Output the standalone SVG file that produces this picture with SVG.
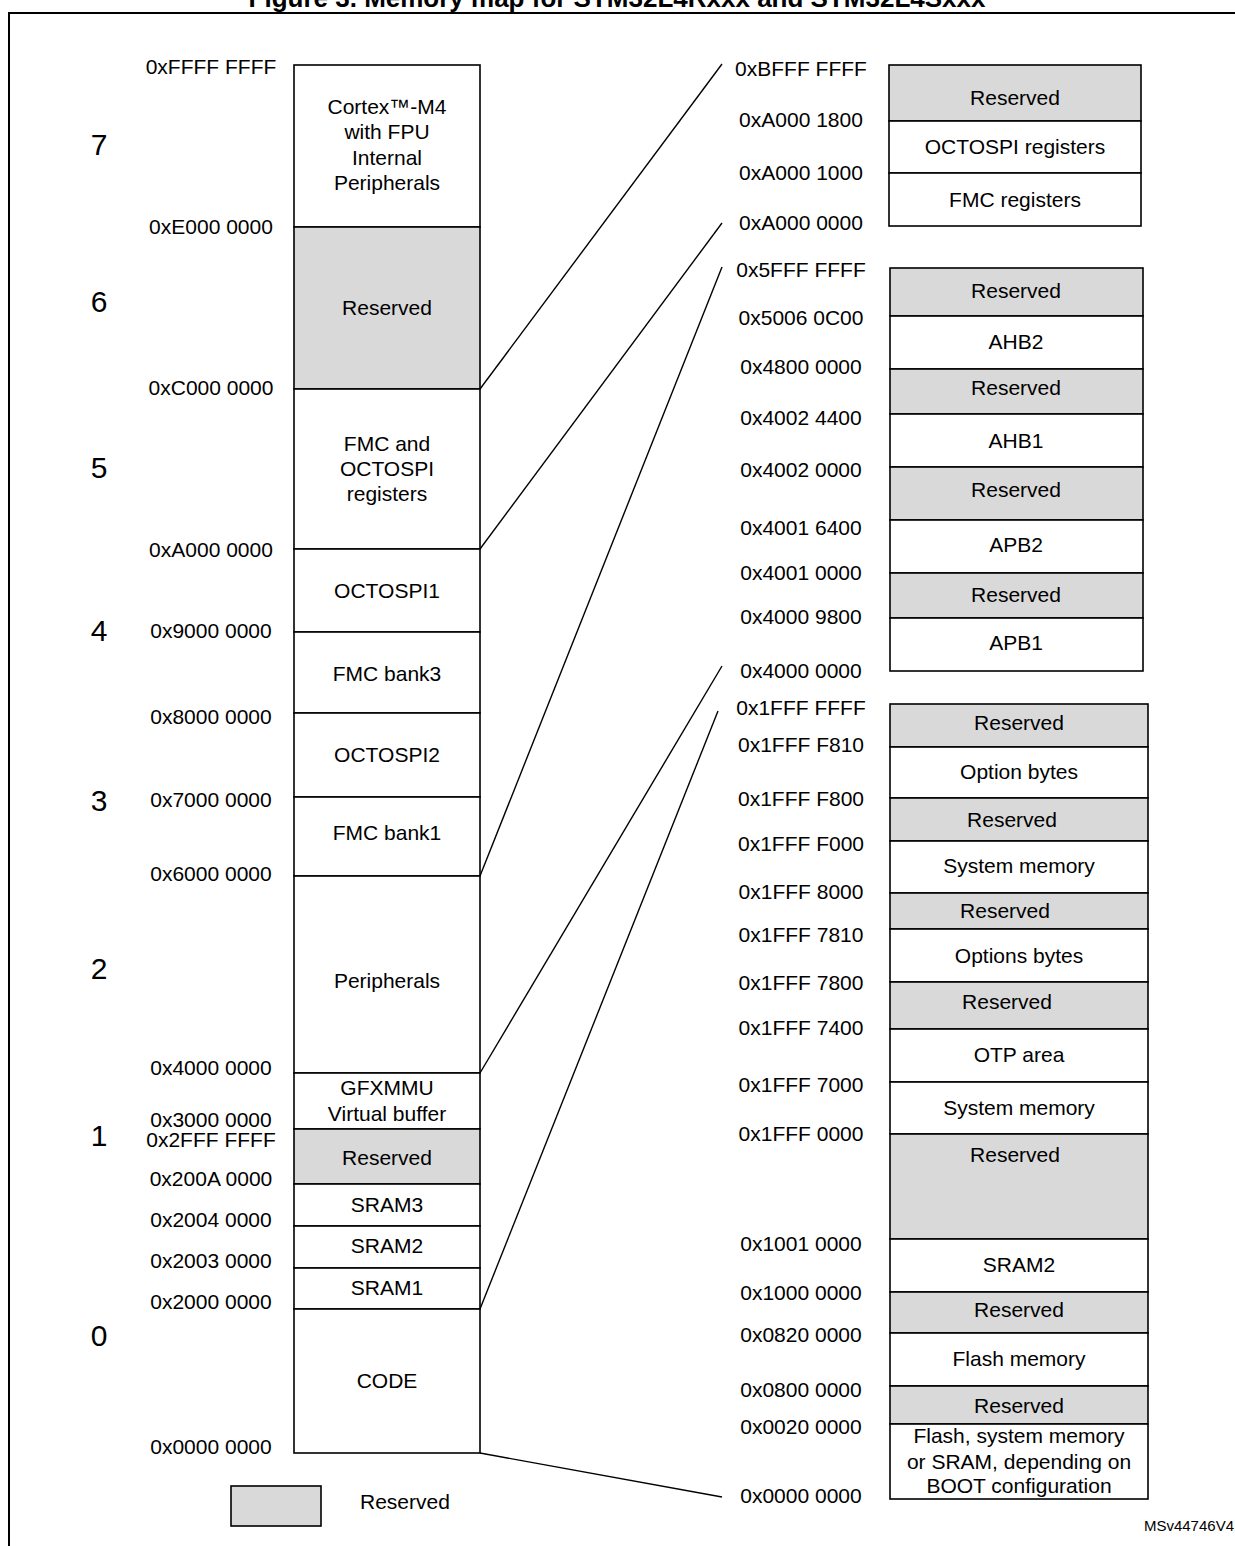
<svg xmlns="http://www.w3.org/2000/svg" width="1235" height="1546" viewBox="0 0 1235 1546">
<style>
text{font-family:"Liberation Sans",Arial,sans-serif;font-size:21px;fill:#000}
.t{text-anchor:middle}
.a{text-anchor:middle}
.n{font-size:30px;text-anchor:middle}
.w{fill:#fff;stroke:#000;stroke-width:1.6}
.g{fill:#d9d9d9;stroke:#000;stroke-width:1.6}
.c{stroke:#000;stroke-width:1.4;fill:none}
.title{font-weight:bold;font-size:26px;text-anchor:middle}
</style>
<rect width="1235" height="1546" fill="#fff"/>
<text class="title" x="617" y="7">Figure 3. Memory map for STM32L4Rxxx and STM32L4Sxxx</text>
<path d="M9,1546 V13 H1235" fill="none" stroke="#000" stroke-width="2"/>

<g id="region-numbers">
<text class="n" x="99" y="155">7</text>
<text class="n" x="99" y="312">6</text>
<text class="n" x="99" y="478">5</text>
<text class="n" x="99" y="641">4</text>
<text class="n" x="99" y="811">3</text>
<text class="n" x="99" y="979">2</text>
<text class="n" x="99" y="1146">1</text>
<text class="n" x="99" y="1346">0</text>
</g>

<g id="left-addresses">
<text class="a" x="211" y="74">0xFFFF FFFF</text>
<text class="a" x="211" y="234">0xE000 0000</text>
<text class="a" x="211" y="395">0xC000 0000</text>
<text class="a" x="211" y="557">0xA000 0000</text>
<text class="a" x="211" y="638">0x9000 0000</text>
<text class="a" x="211" y="724">0x8000 0000</text>
<text class="a" x="211" y="807">0x7000 0000</text>
<text class="a" x="211" y="881">0x6000 0000</text>
<text class="a" x="211" y="1075">0x4000 0000</text>
<text class="a" x="211" y="1127">0x3000 0000</text>
<text class="a" x="211" y="1147">0x2FFF FFFF</text>
<text class="a" x="211" y="1186">0x200A 0000</text>
<text class="a" x="211" y="1227">0x2004 0000</text>
<text class="a" x="211" y="1268">0x2003 0000</text>
<text class="a" x="211" y="1309">0x2000 0000</text>
<text class="a" x="211" y="1454">0x0000 0000</text>
</g>

<g id="cortex-m4"><rect class="w" x="294" y="65" width="186" height="162"/>
<text class="t" x="387" y="114">Cortex™-M4</text><text class="t" x="387" y="139">with FPU</text><text class="t" x="387" y="165">Internal</text><text class="t" x="387" y="190">Peripherals</text></g>
<g id="reserved-6"><rect class="g" x="294" y="227" width="186" height="162"/><text class="t" x="387" y="315">Reserved</text></g>
<g id="fmc-octospi-regs"><rect class="w" x="294" y="389" width="186" height="160"/>
<text class="t" x="387" y="451">FMC and</text><text class="t" x="387" y="476">OCTOSPI</text><text class="t" x="387" y="501">registers</text></g>
<g id="octospi1"><rect class="w" x="294" y="549" width="186" height="83"/><text class="t" x="387" y="598">OCTOSPI1</text></g>
<g id="fmc-bank3"><rect class="w" x="294" y="632" width="186" height="81"/><text class="t" x="387" y="681">FMC bank3</text></g>
<g id="octospi2"><rect class="w" x="294" y="713" width="186" height="84"/><text class="t" x="387" y="762">OCTOSPI2</text></g>
<g id="fmc-bank1"><rect class="w" x="294" y="797" width="186" height="79"/><text class="t" x="387" y="840">FMC bank1</text></g>
<g id="peripherals"><rect class="w" x="294" y="876" width="186" height="197"/><text class="t" x="387" y="988">Peripherals</text></g>
<g id="gfxmmu"><rect class="w" x="294" y="1073" width="186" height="56"/><text class="t" x="387" y="1095">GFXMMU</text><text class="t" x="387" y="1121">Virtual buffer</text></g>
<g id="reserved-1"><rect class="g" x="294" y="1129" width="186" height="55"/><text class="t" x="387" y="1165">Reserved</text></g>
<g id="sram3"><rect class="w" x="294" y="1184" width="186" height="42"/><text class="t" x="387" y="1212">SRAM3</text></g>
<g id="sram2-left"><rect class="w" x="294" y="1226" width="186" height="42"/><text class="t" x="387" y="1253">SRAM2</text></g>
<g id="sram1"><rect class="w" x="294" y="1268" width="186" height="41"/><text class="t" x="387" y="1295">SRAM1</text></g>
<g id="code"><rect class="w" x="294" y="1309" width="186" height="144"/><text class="t" x="387" y="1388">CODE</text></g>

<g id="legend"><rect class="g" x="231" y="1486" width="90" height="40"/><text x="360" y="1509">Reserved</text></g>

<g id="right-addresses">
<text class="a" x="801" y="76">0xBFFF FFFF</text>
<text class="a" x="801" y="127">0xA000 1800</text>
<text class="a" x="801" y="180">0xA000 1000</text>
<text class="a" x="801" y="230">0xA000 0000</text>
<text class="a" x="801" y="277">0x5FFF FFFF</text>
<text class="a" x="801" y="325">0x5006 0C00</text>
<text class="a" x="801" y="374">0x4800 0000</text>
<text class="a" x="801" y="425">0x4002 4400</text>
<text class="a" x="801" y="477">0x4002 0000</text>
<text class="a" x="801" y="535">0x4001 6400</text>
<text class="a" x="801" y="580">0x4001 0000</text>
<text class="a" x="801" y="624">0x4000 9800</text>
<text class="a" x="801" y="678">0x4000 0000</text>
<text class="a" x="801" y="715">0x1FFF FFFF</text>
<text class="a" x="801" y="752">0x1FFF F810</text>
<text class="a" x="801" y="806">0x1FFF F800</text>
<text class="a" x="801" y="851">0x1FFF F000</text>
<text class="a" x="801" y="899">0x1FFF 8000</text>
<text class="a" x="801" y="942">0x1FFF 7810</text>
<text class="a" x="801" y="990">0x1FFF 7800</text>
<text class="a" x="801" y="1035">0x1FFF 7400</text>
<text class="a" x="801" y="1092">0x1FFF 7000</text>
<text class="a" x="801" y="1141">0x1FFF 0000</text>
<text class="a" x="801" y="1251">0x1001 0000</text>
<text class="a" x="801" y="1300">0x1000 0000</text>
<text class="a" x="801" y="1342">0x0820 0000</text>
<text class="a" x="801" y="1397">0x0800 0000</text>
<text class="a" x="801" y="1434">0x0020 0000</text>
<text class="a" x="801" y="1503">0x0000 0000</text>
</g>

<g id="a-reserved"><rect class="g" x="889" y="65" width="252" height="56"/><text class="t" x="1015" y="105">Reserved</text></g>
<g id="a-octospi-regs"><rect class="w" x="889" y="121" width="252" height="52"/><text class="t" x="1015" y="154">OCTOSPI registers</text></g>
<g id="a-fmc-regs"><rect class="w" x="889" y="173" width="252" height="53"/><text class="t" x="1015" y="207">FMC registers</text></g>

<g id="b-reserved-1"><rect class="g" x="890" y="268" width="253" height="48"/><text class="t" x="1016" y="298">Reserved</text></g>
<g id="b-ahb2"><rect class="w" x="890" y="316" width="253" height="53"/><text class="t" x="1016" y="349">AHB2</text></g>
<g id="b-reserved-2"><rect class="g" x="890" y="369" width="253" height="45"/><text class="t" x="1016" y="395">Reserved</text></g>
<g id="b-ahb1"><rect class="w" x="890" y="414" width="253" height="53"/><text class="t" x="1016" y="448">AHB1</text></g>
<g id="b-reserved-3"><rect class="g" x="890" y="467" width="253" height="53"/><text class="t" x="1016" y="497">Reserved</text></g>
<g id="b-apb2"><rect class="w" x="890" y="520" width="253" height="53"/><text class="t" x="1016" y="552">APB2</text></g>
<g id="b-reserved-4"><rect class="g" x="890" y="573" width="253" height="45"/><text class="t" x="1016" y="602">Reserved</text></g>
<g id="b-apb1"><rect class="w" x="890" y="618" width="253" height="53"/><text class="t" x="1016" y="650">APB1</text></g>

<g id="c-reserved-1"><rect class="g" x="890" y="704" width="258" height="43"/><text class="t" x="1019" y="730">Reserved</text></g>
<g id="c-option-bytes"><rect class="w" x="890" y="747" width="258" height="51"/><text class="t" x="1019" y="779">Option bytes</text></g>
<g id="c-reserved-2"><rect class="g" x="890" y="798" width="258" height="43"/><text class="t" x="1012" y="827">Reserved</text></g>
<g id="c-system-memory-1"><rect class="w" x="890" y="841" width="258" height="52"/><text class="t" x="1019" y="873">System memory</text></g>
<g id="c-reserved-3"><rect class="g" x="890" y="893" width="258" height="36"/><text class="t" x="1005" y="918">Reserved</text></g>
<g id="c-options-bytes"><rect class="w" x="890" y="929" width="258" height="53"/><text class="t" x="1019" y="963">Options bytes</text></g>
<g id="c-reserved-4"><rect class="g" x="890" y="982" width="258" height="47"/><text class="t" x="1007" y="1009">Reserved</text></g>
<g id="c-otp"><rect class="w" x="890" y="1029" width="258" height="53"/><text class="t" x="1019" y="1062">OTP area</text></g>
<g id="c-system-memory-2"><rect class="w" x="890" y="1082" width="258" height="52"/><text class="t" x="1019" y="1115">System memory</text></g>
<g id="c-reserved-5"><rect class="g" x="890" y="1134" width="258" height="105"/><text class="t" x="1015" y="1162">Reserved</text></g>
<g id="c-sram2"><rect class="w" x="890" y="1239" width="258" height="53"/><text class="t" x="1019" y="1272">SRAM2</text></g>
<g id="c-reserved-6"><rect class="g" x="890" y="1292" width="258" height="41"/><text class="t" x="1019" y="1317">Reserved</text></g>
<g id="c-flash"><rect class="w" x="890" y="1333" width="258" height="53"/><text class="t" x="1019" y="1366">Flash memory</text></g>
<g id="c-reserved-7"><rect class="g" x="890" y="1386" width="258" height="38"/><text class="t" x="1019" y="1413">Reserved</text></g>
<g id="c-boot"><rect class="w" x="890" y="1424" width="258" height="75"/>
<text class="t" x="1019" y="1443">Flash, system memory</text><text class="t" x="1019" y="1469">or SRAM, depending on</text><text class="t" x="1019" y="1493">BOOT configuration</text></g>

<g id="connectors">
<line class="c" x1="480" y1="389" x2="722" y2="64"/>
<line class="c" x1="480" y1="549" x2="722" y2="223"/>
<line class="c" x1="480" y1="876" x2="722" y2="267"/>
<line class="c" x1="480" y1="1073" x2="722" y2="666"/>
<line class="c" x1="480" y1="1309" x2="718" y2="711"/>
<line class="c" x1="480" y1="1453" x2="722" y2="1497"/>
</g>

<text x="1234" y="1531" style="font-size:15px;text-anchor:end">MSv44746V4</text>
</svg>
